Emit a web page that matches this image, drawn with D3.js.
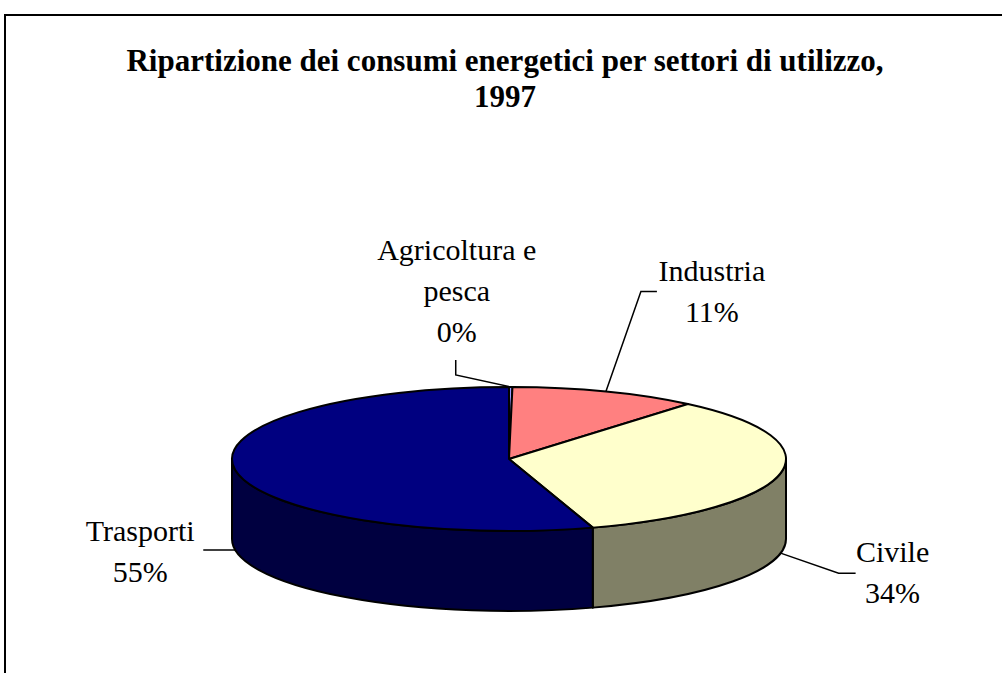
<!DOCTYPE html>
<html>
<head>
<meta charset="utf-8">
<script src="https://cdn.jsdelivr.net/npm/d3@7"></script>
<style>
  body { margin: 0; background: #fff; }
</style>
</head>
<body>
<div id="chart"></div>
<script>
// data
const categories = ['Agricoltura e pesca', 'Industria', 'Civile', 'Trasporti'];
const values = [0.2, 11, 34, 55];
const labelLines = [['Agricoltura e', 'pesca'], ['Industria'], ['Civile'], ['Trasporti']];
const topColors = ['#9999FF', '#FF8080', '#FFFFCC', '#000080'];
const sideColors = ['#4D4D80', '#804040', '#808066', '#000040'];
const titleLines = ['Ripartizione dei consumi energetici per settori di utilizzo,', '1997'];

// layout
const width = 1002, height = 673;
const cx = 509, cy = 459, rx = 277, ry = 72, depth = 80;
const serif = '"Liberation Serif", "Times New Roman", "DejaVu Serif", serif';
// leader elbow/end relative to anchor, last text baseline relative to leader end
const labelLayout = [
    { elbow: [-55, -12], end: [-55, -27], text: [1, -18], fromBottom: false },
    { elbow: [35, -100], end: [51, -100], text: [55, 30], fromBottom: false },
    { elbow: [58, 20], end: [75, 20], text: [37, 30], fromBottom: true },
    { elbow: [-32, 0], end: [-32, 0], text: [-63, 32], fromBottom: true }
];
const lineH = 41;

const svg = d3.select('#chart')
    .append('svg')
    .attr('width', width)
    .attr('height', height);

// chart frame (runs off the right and bottom edge)
svg.append('rect')
    .attr('x', 5)
    .attr('y', 15)
    .attr('width', 1100)
    .attr('height', 800)
    .attr('fill', 'none')
    .attr('stroke', '#000')
    .attr('stroke-width', 2);

// title
svg.append('text')
    .attr('x', 505)
    .attr('y', 71)
    .attr('text-anchor', 'middle')
    .attr('font-family', serif)
    .attr('font-size', 31)
    .attr('font-weight', 'bold')
    .selectAll('tspan')
    .data(titleLines)
    .join('tspan')
    .attr('x', 505)
    .attr('dy', (d, i) => i === 0 ? 0 : 36)
    .text(d => d);

const arcs = d3.pie().sort(null).value(d => d)(values);

function pt(a, off) {
    return [cx + rx * Math.sin(a), cy - ry * Math.cos(a) + (off || 0)];
}

function topPath(d) {
    const p0 = pt(d.startAngle), p1 = pt(d.endAngle);
    const large = d.endAngle - d.startAngle > Math.PI ? 1 : 0;
    return `M${cx},${cy}L${p0}A${rx},${ry} 0 ${large} 1 ${p1}Z`;
}

function sidePath(d) {
    const s0 = Math.max(d.startAngle, Math.PI / 2);
    const s1 = Math.min(d.endAngle, Math.PI * 1.5);
    if (s1 <= s0) return null;
    return `M${pt(s0)}A${rx},${ry} 0 0 1 ${pt(s1)}L${pt(s1, depth)}A${rx},${ry} 0 0 0 ${pt(s0, depth)}Z`;
}

const pieG = svg.append('g');

pieG.selectAll('path.side')
    .data(arcs.filter(d => sidePath(d)))
    .join('path')
    .attr('class', 'side')
    .attr('d', sidePath)
    .attr('fill', d => sideColors[d.index])
    .attr('stroke', '#000')
    .attr('stroke-width', 2)
    .attr('stroke-linejoin', 'round');

pieG.selectAll('path.top')
    .data(arcs)
    .join('path')
    .attr('class', 'top')
    .attr('d', topPath)
    .attr('fill', d => topColors[d.index])
    .attr('stroke', '#000')
    .attr('stroke-width', 2)
    .attr('stroke-linejoin', 'round');

// labels with leader lines
const total = d3.sum(values);
const pct = d3.format('.0%');

const labelG = svg.append('g');
arcs.forEach(d => {
    const lay = labelLayout[d.index];
    const mid = (d.startAngle + d.endAngle) / 2;
    const a = pt(mid, lay.fromBottom ? depth : 0);
    const e = [a[0] + lay.elbow[0], a[1] + lay.elbow[1]];
    const f = [a[0] + lay.end[0], a[1] + lay.end[1]];

    labelG.append('path')
        .attr('d', d3.line()([a, e, f]))
        .attr('fill', 'none')
        .attr('stroke', '#000')
        .attr('stroke-width', 1.5);

    const lines = labelLines[d.index].concat([pct(d.value / total)]);
    const tx = f[0] + lay.text[0];
    const lastY = f[1] + lay.text[1];
    labelG.append('text')
        .attr('text-anchor', 'middle')
        .attr('font-family', serif)
        .attr('font-size', 30)
        .selectAll('tspan')
        .data(lines)
        .join('tspan')
        .attr('x', tx)
        .attr('y', (l, i) => lastY - (lines.length - 1 - i) * lineH)
        .text(l => l);
});
</script>
</body>
</html>
